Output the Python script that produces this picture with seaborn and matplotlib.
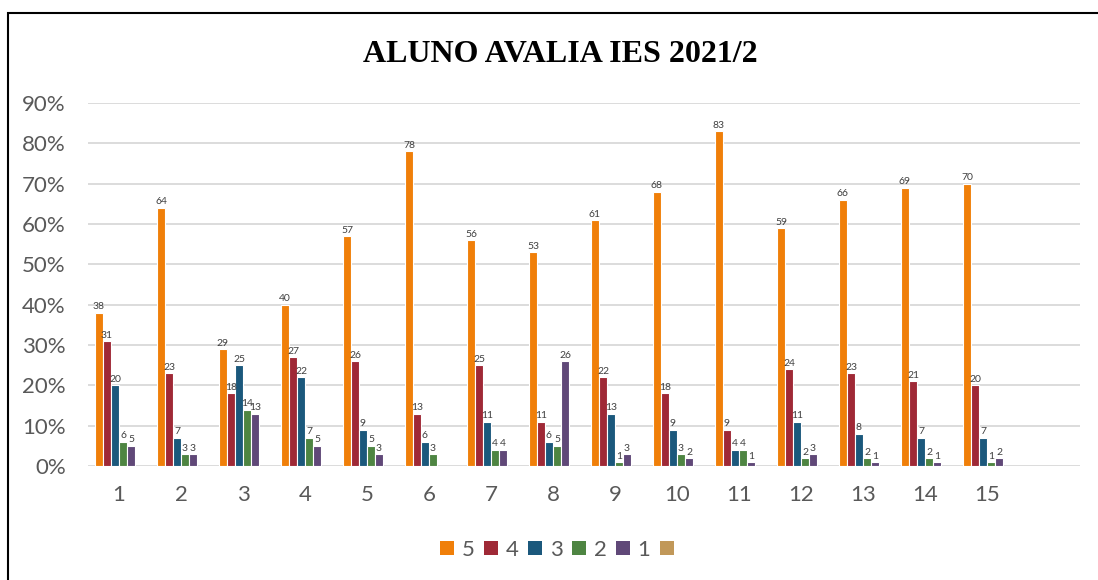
import matplotlib
matplotlib.use("Agg")
import matplotlib.pyplot as plt
import matplotlib.patches as mpatches
import seaborn as sns
import pandas as pd

categories = [str(i) for i in range(1, 16)]
series_names = ["5", "4", "3", "2", "1", ""]
s5 = [38, 64, 29, 40, 57, 78, 56, 53, 61, 68, 83, 59, 66, 69, 70]
s4 = [31, 23, 18, 27, 26, 13, 25, 11, 22, 18, 9, 24, 23, 21, 20]
s3 = [20, 7, 25, 22, 9, 6, 11, 6, 13, 9, 4, 11, 8, 7, 7]
s2 = [6, 3, 14, 7, 5, 3, 4, 5, 1, 3, 4, 2, 2, 2, 1]
s1 = [5, 3, 13, 5, 3, 0, 4, 26, 3, 2, 1, 3, 1, 1, 2]
s0 = [0] * 15
colors = ["#F07F09", "#9F2936", "#1B587C", "#4E8542", "#604878", "#C19859"]
title = "ALUNO AVALIA IES 2021/2"

rows = []
for name, vals in zip(series_names, [s5, s4, s3, s2, s1, s0]):
    for c, v in zip(categories, vals):
        rows.append({"cat": c, "serie": name, "val": v})
df = pd.DataFrame(rows)

sns.set_theme(style="white")
plt.rcParams["font.family"] = ["Lato", "DejaVu Sans"]

fig = plt.figure(figsize=(10.98, 5.80), dpi=100)
ax = fig.add_axes([88 / 1098, 1 - 466 / 580, 992 / 1098, 363 / 580])

sns.barplot(data=df, x="cat", y="val", hue="serie", order=categories,
            hue_order=series_names, palette=colors, saturation=1, width=0.775,
            edgecolor="white", linewidth=0.8, legend=False, ax=ax, zorder=3)

for cont in ax.containers:
    vals = cont.datavalues
    for p, v in zip(cont.patches, vals):
        if v == 0:
            p.set_linewidth(0)
    ax.bar_label(cont, labels=[f"{v:g}" if v > 0 else "" for v in vals],
                 padding=1, fontsize=7.5, color="#404040")

ax.set_xlim(-0.5, 15.5)
ax.set_ylim(0, 90)
ax.set_yticks(range(0, 91, 10))
ax.set_yticklabels([f"{t}%" for t in range(0, 91, 10)])
ax.grid(axis="y", color="#D9D9D9", linewidth=1.3, zorder=0)
ax.set_axisbelow(True)
for s in ax.spines.values():
    s.set_visible(False)
ax.tick_params(axis="both", length=0, labelsize=16, labelcolor="#595959")
ax.tick_params(axis="y", pad=16)
ax.tick_params(axis="x", pad=14)
ax.set_xlabel("")
ax.set_ylabel("")

handles = [mpatches.Patch(facecolor=c, edgecolor="none") for c in colors]
fig.legend(handles, series_names, loc="center", bbox_to_anchor=(561 / 1098, 1 - 550 / 580),
           ncol=6, frameon=False, fontsize=16, labelcolor="#595959",
           handlelength=0.6, handleheight=0.6, handletextpad=0.35, columnspacing=0.45)

fig.text(560 / 1098, 1 - 55 / 580, title, ha="center", va="center", color="black",
         fontsize=23, fontweight="bold", family=["Liberation Serif", "DejaVu Serif"])

border = mpatches.Rectangle((8 / 1098, -0.1), 1.2, 1 - 13 / 580 + 0.1,
                            transform=fig.transFigure, fill=False,
                            edgecolor="black", linewidth=1.5)
fig.patches.append(border)

fig.savefig("out.png", dpi=100)
